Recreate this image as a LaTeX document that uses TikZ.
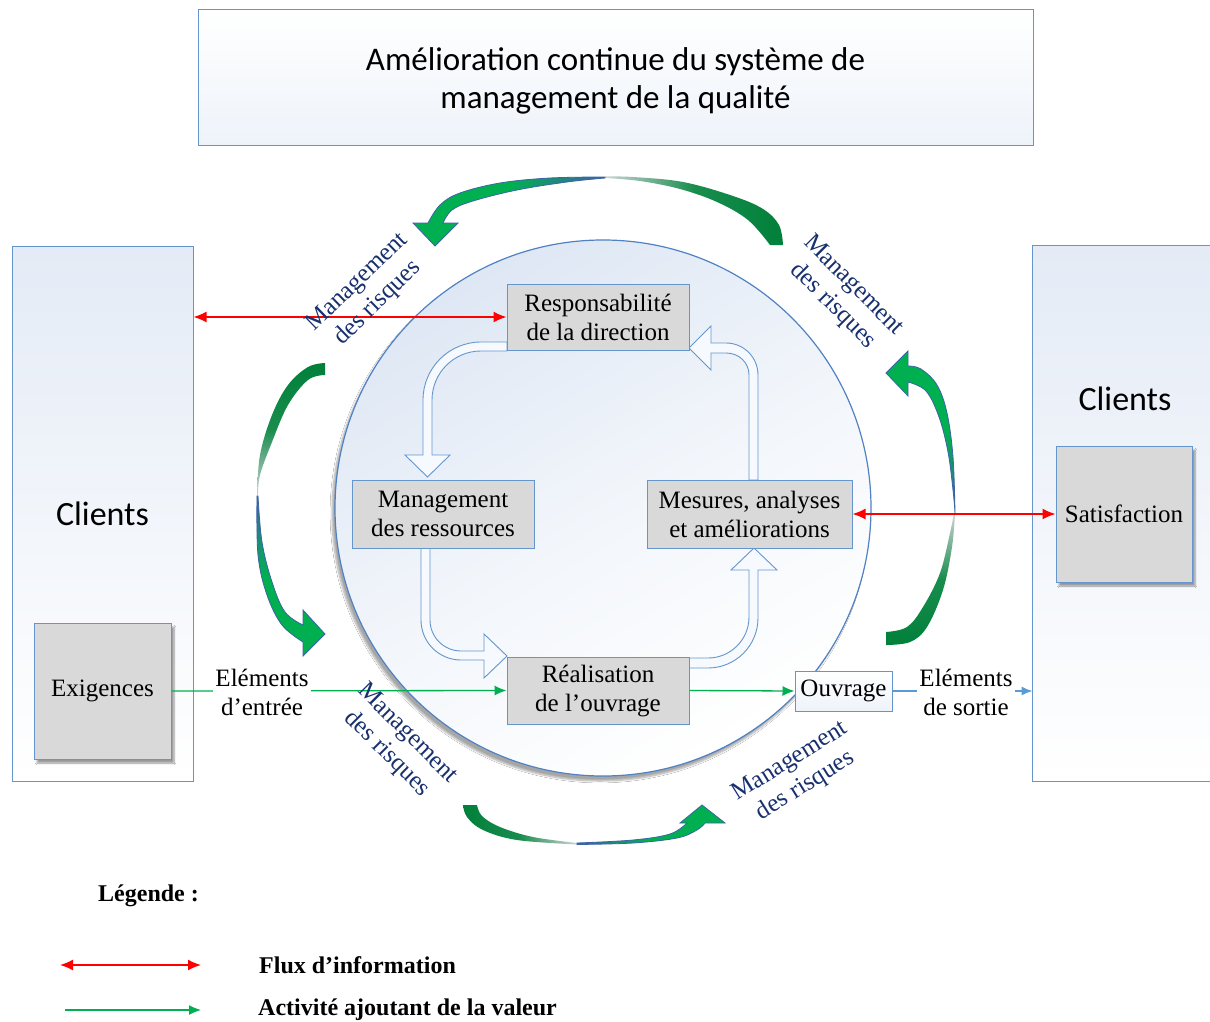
\documentclass[tikz,border=0pt]{standalone}
\usepackage{fontspec}
\setmainfont{Liberation Serif}
\newfontfamily\calibfont{Carlito}
\usetikzlibrary{arrows.meta,shadows.blur}

\definecolor{boxblue}{RGB}{100,150,205}
\definecolor{boxgray}{RGB}{217,217,217}
\definecolor{circblue}{RGB}{80,130,195}
\definecolor{circtop}{RGB}{222,231,244}
\definecolor{clienttop}{RGB}{228,235,246}
\definecolor{titlebg}{RGB}{238,243,250}
\definecolor{holfill}{RGB}{246,249,253}
\definecolor{arcdk}{RGB}{0,128,58}
\definecolor{arcgr}{RGB}{0,176,80}
\definecolor{arcbl}{RGB}{60,100,165}
\definecolor{arclt}{RGB}{205,212,215}
\definecolor{linegreen}{RGB}{0,176,80}
\definecolor{linered}{RGB}{255,0,0}
\definecolor{lineblue}{RGB}{91,155,213}
\definecolor{navy}{RGB}{24,48,110}

\newcommand\bodyfnt{\fontsize{25}{29}\selectfont}
\newcommand\titlefnt{\calibfont\fontsize{33}{38}\selectfont}
\newcommand\clientfnt{\calibfont\fontsize{34}{40}\selectfont}
\newcommand\legfnt{\bfseries\fontsize{24}{28}\selectfont}

\begin{document}
\begin{tikzpicture}[x=1pt,y=-1pt,
  graybox/.style={draw=boxblue, fill=boxgray, line width=1pt, align=center,
    font=\bodyfnt, inner sep=0pt},
  clientbox/.style={draw=boxblue, line width=1pt, shade, top color=clienttop,
    bottom color=white, inner sep=0pt},
  holarrow/.style={draw=boxblue, fill=holfill, line width=0.9pt},
  headhalf/.style={draw=arcbl, line width=0.8pt},
  grnline/.style={draw=linegreen, line width=1.3pt, -{Latex[length=12pt,width=10pt]}},
  redline/.style={draw=linered, line width=1.5pt,
    {Latex[length=13pt,width=11pt]}-{Latex[length=13pt,width=11pt]}},
  bluline/.style={draw=lineblue, line width=1.3pt, -{Latex[length=11pt,width=9pt]}},
  lbl/.style={font=\bodyfnt, align=center, inner sep=2pt},
  risk/.style={font=\bodyfnt, text=navy, align=center, inner sep=0pt},
  legtext/.style={font=\legfnt, anchor=west, inner sep=0pt}]

\useasboundingbox (0,0) rectangle (1210,1022);
\fill[white] (0,0) rectangle (1210,1022);

% title banner
\node[draw=boxblue, line width=1pt, shade, top color=white, bottom color=titlebg,
  minimum width=835pt, minimum height=136pt, inner sep=0pt] (title) at (615.5,78) {};
\node[align=center, font=\titlefnt, inner sep=0pt] (titletext) at (615.5,81)
  {Amélioration continue du système de\\management de la qualité};

% customer columns
\node[clientbox, minimum width=181pt, minimum height=535pt, font=\clientfnt]
  (lcl) at (102.5,513.5) {Clients};
\node[clientbox, draw=none, minimum width=177pt, minimum height=535pt]
  (rcl) at (1121.5,513.5) {};
\draw[boxblue, line width=1pt] (rcl.north east) -- (rcl.north west)
  -- (rcl.south west) -- (rcl.south east);
\node[font=\clientfnt] (rcltext) at (1125,399) {Clients};

\node[graybox, minimum width=137pt, minimum height=136pt,
  blur shadow={shadow xshift=3pt, shadow yshift=-4pt, shadow opacity=40, shadow blur steps=6}]
  (exig) at (102.5,691) {Exigences};
\node[graybox, minimum width=136pt, minimum height=136pt,
  blur shadow={shadow xshift=3pt, shadow yshift=-4pt, shadow opacity=40, shadow blur steps=6}]
  (sat) at (1124,514) {Satisfaction};

% central process ring
\node[circle, draw=circblue, line width=1.2pt, minimum size=536pt, inner sep=0pt,
  shade, top color=circtop, bottom color=white, middle color=white!60!circtop, shading angle=30,
  blur shadow={shadow xshift=-3pt, shadow yshift=-5pt, shadow opacity=35, shadow blur steps=8}]
  (ring) at (603,508) {};

% risk-management arcs: top (pointing down-left)
\shade[left color=arclt, right color=arcdk, middle color=arcdk!90!white]
  plot[smooth, tension=0.6] coordinates {(783,245) (779,225) (763,209) (733,196) (683,182) (633,177) (605,176.5)}
  -- plot[smooth, tension=0.6] coordinates {(605,178) (640,181) (680,189) (717,202) (748,220) (770,245)} -- cycle;
\shadedraw[headhalf, left color=arcgr, right color=arcbl, middle color=arcgr]
  plot[smooth, tension=0.6] coordinates {(605,177) (550,178) (500,183) (460,193) (440,205) (428,223)}
  -- (413,223) -- (435,246) -- (458,223) -- (443,223)
  -- plot[smooth, tension=0.6] coordinates {(443,223) (452,210) (473,201) (517,190) (567,182) (605,178)} -- cycle;

% left arc (pointing right)
\shade[top color=arcdk, bottom color=arclt, middle color=arcdk!90!white]
  plot[smooth, tension=0.6] coordinates {(325,363) (308,367) (288,385) (272,415) (260,455) (257,496)}
  -- plot[smooth, tension=0.6] coordinates {(258,496) (260,475) (272,442) (288,405) (308,380) (325,375)} -- cycle;
\shadedraw[headhalf, top color=arcbl, bottom color=arcgr, middle color=arcgr]
  plot[smooth, tension=0.6] coordinates {(257,496) (258,555) (267,595) (282,625) (303,642)}
  -- (303,656) -- (325,634) -- (303,610) -- (303,625)
  -- plot[smooth, tension=0.6] coordinates {(303,625) (285,612) (272,582) (262,542) (258,496)} -- cycle;

% right arc (pointing left)
\shade[top color=arclt, bottom color=arcdk, middle color=arcdk!90!white]
  plot[smooth, tension=0.6] coordinates {(886,645) (910,642) (927,627) (943,590) (952,547) (955,513)}
  -- plot[smooth, tension=0.6] coordinates {(954,513) (950,533) (940,573) (923,607) (907,627) (886,632)} -- cycle;
\shadedraw[headhalf, top color=arcgr, bottom color=arcbl, middle color=arcgr]
  plot[smooth, tension=0.6] coordinates {(955,513) (953,457) (947,413) (937,385) (921,369) (908,366)}
  -- (908,351) -- (886,373) -- (908,396) -- (908,382)
  -- plot[smooth, tension=0.6] coordinates {(908,382) (926,391) (939,417) (948,452) (953,490) (955,513)} -- cycle;

% bottom arc (pointing up)
\shade[left color=arcdk, right color=arclt, middle color=arcdk!90!white]
  plot[smooth, tension=0.6] coordinates {(463,805) (467,817) (483,830) (517,840) (577,844.5)}
  -- plot[smooth, tension=0.6] coordinates {(577,843) (533,837) (500,827) (482,816) (477,805)} -- cycle;
\shadedraw[headhalf, left color=arcbl, right color=arcgr, middle color=arcgr]
  plot[smooth, tension=0.6] coordinates {(577,844.5) (633,843) (677,838) (697,830) (705,823)}
  -- (725,823) -- (702,805) -- (680,823) -- (687,823)
  -- plot[smooth, tension=0.6] coordinates {(687,823) (670,834) (633,840) (577,843)} -- cycle;

% hollow block arrows of the PDCA loop
\path[holarrow] (507,342) -- (481,342) .. controls (449,342) and (423,368) .. (423,400)
  -- (423,455) -- (405,455) -- (427.5,477) -- (450,455) -- (432,455) -- (432,400)
  .. controls (432,372.9) and (453.9,351) .. (481,351) -- (507,351) -- cycle;
\path[holarrow] (421,548) -- (421,620) .. controls (421,642.1) and (438.9,660) .. (461,660)
  -- (484,660) -- (484,678) -- (507,656) -- (484,634) -- (484,651) -- (461,651)
  .. controls (443.9,651) and (430,637.1) .. (430,620) -- (430,548) -- cycle;
\path[holarrow] (689,668) -- (708,668) .. controls (735.6,668) and (758,645.6) .. (758,618)
  -- (758,570) -- (777,570) -- (754,548) -- (731,570) -- (749,570) -- (749,617)
  .. controls (749,639.6) and (730.6,658) .. (708,658) -- (689,658) -- cycle;
\path[holarrow] (758,480) -- (758,375) .. controls (758,357.3) and (743.7,343) .. (726,343)
  -- (711,343) -- (711,326) -- (689,348) -- (711,370) -- (711,353) -- (726,353)
  .. controls (738.7,353) and (749,362.3) .. (749,375) -- (749,480) -- cycle;

% process boxes
\node[graybox, minimum width=182pt, minimum height=66pt] (resp) at (598,317)
  {Responsabilité\\de la direction};
\node[graybox, minimum width=182pt, minimum height=68pt] (mgr) at (443,514)
  {Management\\des ressources};
\node[graybox, minimum width=205pt, minimum height=68pt] (mes) at (749.5,514)
  {Mesures, analyses\\et améliorations};
\node[graybox, minimum width=182pt, minimum height=67pt] (real) at (598,690.5)
  {Réalisation\\de l’ouvrage};
\node[draw=boxblue, line width=1pt, shade, top color=white, bottom color=titlebg,
  minimum width=97pt, minimum height=40pt, font=\bodyfnt, inner sep=0pt]
  (ouvr) at (843.5,691) {Ouvrage};

% flows
\draw[grnline] (exig.east) -- (real.west);
\draw[grnline] (real.east) -- (ouvr.west);
\draw[bluline] (ouvr.east) -- (ouvr.east -| rcl.west);
\draw[redline] (resp.west -| lcl.east) -- (resp.west);
\draw[redline] (mes.east) -- (sat.west);

\node[lbl, fill=white] (entree) at (262,692) {Eléments\\d’entrée};
\node[lbl, fill=white] (sortie) at (966,692) {Eléments\\de sortie};

% risk-management labels
\node[risk, rotate=44] (risk1) at (368,293) {Management\\des risques};
\node[risk, rotate=-45] (risk2) at (843,296) {Management\\des risques};
\node[risk, rotate=-45] (risk3) at (397,744) {Management\\des risques};
\node[risk, rotate=32] (risk4) at (798,774) {Management\\des risques};

% legend
\node[legtext] (leg) at (98,896) {Légende :};
\coordinate (la1) at (60,965);
\coordinate (la2) at (201,965);
\draw[redline] (la1) -- (la2);
\node[legtext] (legred) at (259,965) {Flux d’information};
\coordinate (lb1) at (65,1010);
\coordinate (lb2) at (201,1010);
\draw[grnline] (lb1) -- (lb2);
\node[legtext] (leggreen) at (258,1010) {Activité ajoutant de la valeur};
\end{tikzpicture}
\end{document}
